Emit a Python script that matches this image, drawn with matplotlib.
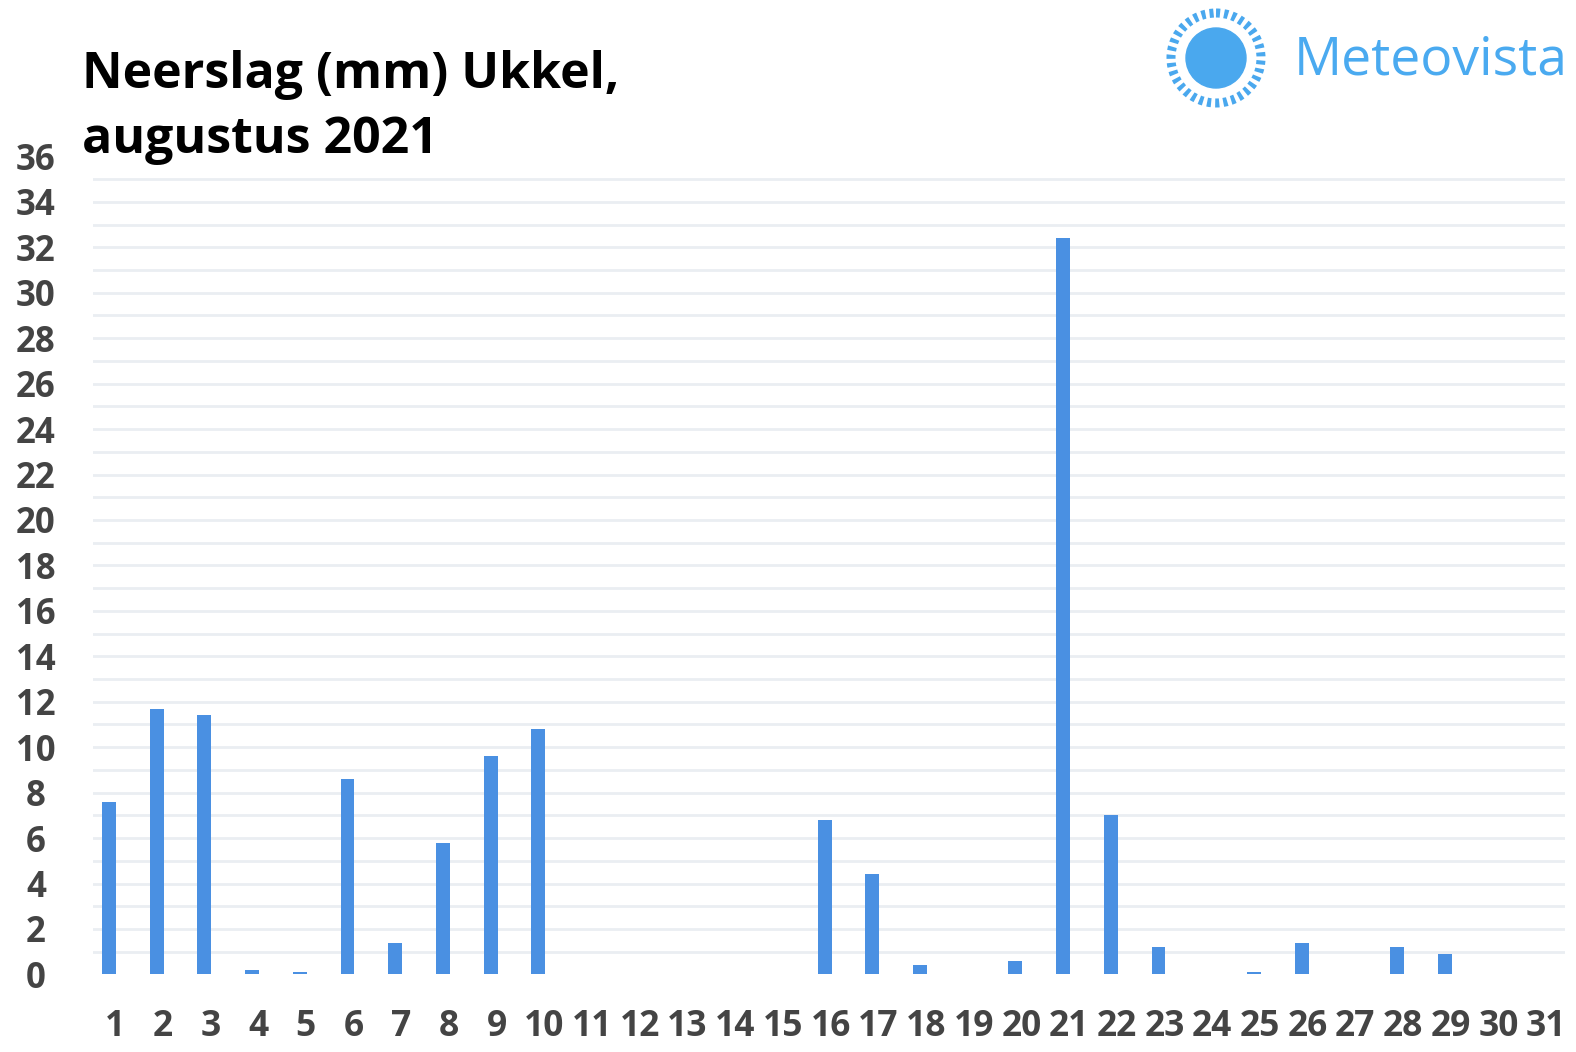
import matplotlib
matplotlib.use("Agg")
import matplotlib.pyplot as plt
from matplotlib.patches import Circle
import matplotlib.transforms as mtransforms

plt.rcParams['font.family'] = ['Open Sans', 'DejaVu Sans']

days = list(range(1, 32))
rain = [7.6, 11.7, 11.4, 0.2, 0.1, 8.6, 1.4, 5.8, 9.6, 10.8,
        0, 0, 0, 0, 0, 6.8, 4.4, 0.4, 0, 0.6,
        32.4, 7.0, 1.2, 0, 0.1, 1.4, 0, 1.2, 0.9, 0, 0]
yticks = list(range(0, 37, 2))
title_lines = ["Neerslag (mm) Ukkel,", "augustus 2021"]
brand = "Meteovista"

W, H = 1576, 1052
fig = plt.figure(figsize=(W / 100, H / 100), dpi=100)
fig.patch.set_facecolor("white")

left, right = 93 / W, 1565 / W
bottom, top = 1 - 974.4 / H, 1 - 156.4 / H
ax = fig.add_axes([left, bottom, right - left, top - bottom])
ax.bar(days, rain, width=0.29, color="#4a90e2", zorder=3)
ax.set_xlim(0.665, 31.52)
ax.set_ylim(0, 36)
ax.set_yticks(yticks)
ax.set_yticklabels([str(v) for v in yticks])
ax.set_yticks(list(range(1, 36)), minor=True)
ax.set_xticks(days)
ax.set_xticklabels([str(d) for d in days])
for s in ax.spines.values():
    s.set_visible(False)
ax.tick_params(axis="both", which="both", length=0)
ax.tick_params(axis="y", labelsize=25, labelcolor="#444444", pad=41)
ax.tick_params(axis="x", labelsize=25.5, labelcolor="#444444", pad=25)
offset = mtransforms.ScaledTranslation(6 / 100, 0, fig.dpi_scale_trans)
for lbl in ax.get_xticklabels():
    lbl.set_fontweight("bold")
    lbl.set_transform(lbl.get_transform() + offset)
for lbl in ax.get_yticklabels():
    lbl.set_fontweight("bold")
    lbl.set_horizontalalignment("center")
ax.grid(axis="y", which="minor", color="#eaeef2", linewidth=2, zorder=0)
ax.grid(axis="y", which="major", color="#eaeef2", linewidth=2, zorder=0)
gl = ax.yaxis.get_gridlines()
gl[0].set_visible(False)
gl[-1].set_visible(False)
ax.set_axisbelow(True)

fig.text(82 / W, 1 - 88.5 / H, title_lines[0], fontsize=36, fontweight="bold",
         color="black", ha="left", va="baseline")
fig.text(82 / W, 1 - 153 / H, title_lines[1], fontsize=36, fontweight="bold",
         color="black", ha="left", va="baseline")

# logo
lax = fig.add_axes([1160 / W, 1 - 110 / H, 110 / W, 110 / H])
lax.set_xlim(1160, 1270)
lax.set_ylim(110, 0)
lax.set_aspect("equal")
lax.axis("off")
lax.add_patch(Circle((1216, 58), 30, color="#4aa8ee"))
lax.add_patch(Circle((1216, 58), 45, fill=False, edgecolor="#4aa8ee",
                     linewidth=6.5, linestyle=(0, (0.45, 0.45))))
fig.text(1294 / W, 1 - 61 / H, brand, fontsize=38.5, color="#4aaaf0",
         ha="left", va="center")

fig.savefig("out.png", dpi=100)
